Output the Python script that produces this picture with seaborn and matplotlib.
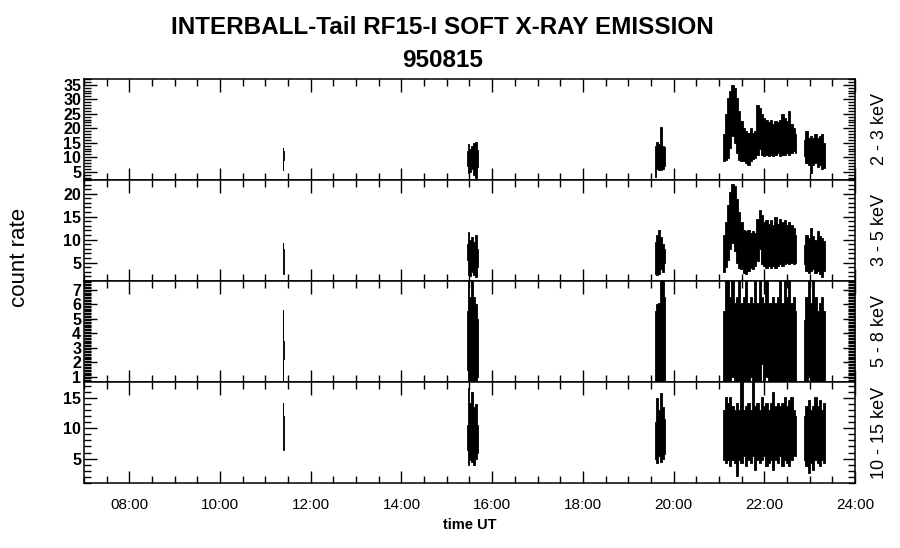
import numpy as np
import pandas as pd
import matplotlib
matplotlib.use("Agg")
import matplotlib.pyplot as plt
import seaborn as sns
from matplotlib.ticker import MultipleLocator, FuncFormatter

nan = np.nan

# Время UT (часы); NaN разделяет отдельные сеансы измерений
t_ut = [11.385, 11.40, 11.415, nan,
        15.44, 15.48, 15.52, 15.56, 15.60, 15.64, 15.68, nan,
        19.60, 19.64, 19.68, 19.72, 19.76, 19.80, 19.82, nan,
        21.10, 21.15, 21.20, 21.25, 21.30, 21.35, 21.40, 21.45, 21.50, 21.55, 21.60,
        21.65, 21.70, 21.75, 21.80, 21.85, 21.90, 21.95, 22.00, 22.05, 22.10, 22.15,
        22.20, 22.25, 22.30, 22.35, 22.40, 22.45, 22.50, 22.55, 22.60, 22.65, 22.70, nan,
        22.88, 22.93, 22.98, 23.03, 23.08, 23.13, 23.18, 23.23, 23.28, 23.33]

# Огибающие скорости счёта (верх / низ) по каналам
hi_2_3 = [13.3, 12.0, 11.5, nan,
          12.0, 14.5, 13.0, 14.0, 14.8, 15.3, 12.5, nan,
          14.0, 15.3, 14.5, 20.5, 14.0, 13.5, 9.0, nan,
          18.0, 25.0, 30.5, 33.0, 35.0, 34.0, 30.5, 26.0, 22.5, 20.0, 19.0,
          18.5, 20.0, 18.5, 19.0, 28.0, 27.0, 25.0, 23.6, 23.0, 22.0, 23.0,
          21.3, 22.5, 22.0, 23.0, 25.0, 23.6, 22.5, 26.0, 21.3, 20.0, 18.0, nan,
          16.0, 19.0, 16.7, 17.3, 16.5, 18.0, 16.7, 17.3, 18.0, 15.0]
lo_2_3 = [5.5, 9.0, 9.2, nan,
          7.0, 4.5, 5.0, 6.0, 4.0, 3.0, 6.5, nan,
          3.3, 6.0, 5.7, 5.5, 6.0, 7.0, 8.0, nan,
          8.7, 9.0, 9.8, 13.3, 17.3, 15.0, 11.5, 9.0, 8.7, 8.7, 8.1,
          7.5, 8.7, 9.3, 9.8, 10.9, 12.7, 10.9, 10.4, 10.9, 10.4, 10.9,
          10.4, 10.9, 11.5, 10.4, 10.9, 10.9, 11.5, 10.9, 11.5, 12.1, 11.5, nan,
          10.5, 8.0, 7.5, 4.6, 7.5, 8.0, 6.5, 7.5, 5.8, 6.4]

hi_3_5 = [9.3, 8.0, 7.5, nan,
          9.0, 11.6, 10.0, 10.5, 9.5, 11.0, 8.0, nan,
          9.5, 11.0, 12.0, 10.5, 9.0, 8.0, 6.5, nan,
          11.1, 13.9, 17.5, 20.3, 22.1, 21.7, 18.9, 16.0, 13.9, 12.2, 11.8,
          12.2, 11.5, 11.8, 11.5, 14.6, 16.4, 15.3, 13.9, 14.2, 13.5, 14.2,
          13.2, 15.0, 13.5, 14.6, 13.9, 14.2, 13.2, 13.9, 13.2, 12.5, 11.1, nan,
          8.9, 11.1, 10.4, 12.5, 10.7, 10.0, 11.8, 10.7, 10.4, 9.6]
lo_3_5 = [2.6, 2.6, 3.0, nan,
          5.5, 2.4, 2.0, 3.0, 2.2, 1.8, 4.0, nan,
          2.6, 2.4, 2.5, 3.5, 3.0, 5.0, 5.5, nan,
          3.0, 4.0, 5.5, 8.0, 9.3, 7.5, 5.0, 3.9, 3.5, 2.8, 2.5,
          3.2, 3.9, 3.5, 4.2, 5.4, 7.9, 4.6, 4.2, 3.9, 4.2, 3.9,
          4.2, 3.9, 4.2, 4.6, 4.2, 4.6, 5.0, 4.6, 5.0, 4.6, 5.0, nan,
          4.6, 3.2, 2.8, 3.2, 3.5, 2.8, 3.2, 2.5, 1.8, 3.2]

hi_5_8 = [5.6, 3.5, 3.3, nan,
          5.5, 7.7, 6.5, 7.7, 6.5, 6.0, 5.0, nan,
          5.5, 6.0, 6.1, 7.7, 7.7, 6.5, 5.0, nan,
          5.5, 7.7, 7.7, 6.5, 7.7, 6.1, 6.5, 7.7, 6.1, 6.5, 7.7,
          6.1, 6.5, 6.1, 7.7, 6.1, 7.7, 6.5, 6.1, 7.7, 6.1, 6.1,
          6.5, 6.1, 6.5, 7.7, 6.1, 7.7, 6.5, 7.7, 6.1, 6.5, 5.5, nan,
          4.9, 6.5, 7.7, 6.1, 7.7, 6.5, 5.5, 6.1, 6.5, 5.5]
lo_5_8 = [0.0, 2.2, 2.3, nan,
          1.5, 0.0, 0.0, 0.0, 0.0, 0.0, 1.0, nan,
          0.0, 0.0, 0.0, 0.0, 0.0, 0.0, 0.0, nan,
          0.0, 0.0, 0.0, 0.0, 1.0, 0.0, 0.0, 0.0, 0.0, 0.0, 0.0,
          0.0, 1.0, 0.0, 0.0, 0.0, 0.0, 1.9, 0.0, 1.0, 0.0, 0.0,
          0.0, 0.0, 0.0, 0.0, 0.0, 0.0, 1.0, 0.0, 0.0, 0.0, 0.0, nan,
          0.0, 0.0, 1.0, 0.0, 0.0, 0.0, 0.0, 0.0, 0.0, 0.0]

hi_10_15 = [14.2, 12.0, 11.5, nan,
            10.5, 16.6, 14.2, 16.0, 13.5, 14.0, 10.5, nan,
            11.0, 15.0, 13.0, 15.8, 13.5, 11.5, 9.0, nan,
            13.0, 15.2, 14.1, 15.2, 13.6, 13.0, 14.1, 13.0, 18.5, 13.0, 13.6,
            14.1, 13.0, 18.5, 13.6, 14.1, 13.0, 15.2, 13.6, 14.1, 13.0, 14.1,
            16.0, 13.6, 14.1, 13.6, 14.1, 15.2, 13.6, 14.7, 15.2, 13.0, 12.0, nan,
            12.0, 13.7, 14.7, 13.0, 13.7, 15.2, 13.7, 14.7, 13.0, 14.2]
lo_10_15 = [7.5, 6.5, 7.0, nan,
            6.5, 4.0, 4.8, 4.5, 4.0, 5.0, 6.0, nan,
            5.0, 4.3, 5.5, 4.5, 5.0, 5.8, 7.5, nan,
            4.8, 4.3, 4.8, 3.8, 4.8, 4.3, 2.1, 4.8, 4.3, 5.4, 3.8,
            4.8, 4.3, 5.4, 3.2, 4.8, 4.3, 4.8, 5.4, 3.8, 4.3, 4.8,
            3.2, 4.8, 4.3, 5.4, 3.8, 4.8, 4.3, 3.8, 4.8, 5.4, 5.4, nan,
            4.8, 3.8, 2.7, 4.3, 3.2, 4.8, 4.3, 3.8, 4.8, 4.3]

channels = ["2 - 3 keV", "3 - 5 keV", "5 - 8 keV", "10 - 15 keV"]
y_limits = [(2.2, 37.0), (1.0, 23.0), (0.65, 7.6), (1.0, 17.6)]
y_major = [5, 5, 1, 5]
y_minor = [1, 1, 0.1, 1]


def hhmm(h, _pos):
    return f"{int(round(h)):02d}:00"


def main():
    sns.set_theme(style="ticks")
    plt.rcParams["font.family"] = ["Liberation Sans", "DejaVu Sans"]
    # Чистый чёрный цвет для текста и осей, как в оригинале
    for key in ["text.color", "axes.labelcolor", "xtick.color", "ytick.color",
                "axes.edgecolor"]:
        plt.rcParams[key] = "black"

    df = pd.DataFrame({"t": t_ut,
                       "hi_0": hi_2_3, "lo_0": lo_2_3,
                       "hi_1": hi_3_5, "lo_1": lo_3_5,
                       "hi_2": hi_5_8, "lo_2": lo_5_8,
                       "hi_3": hi_10_15, "lo_3": lo_10_15})

    fig, axes = plt.subplots(4, 1, figsize=(9.0, 5.48), dpi=100, sharex=True)
    fig.subplots_adjust(left=0.0933, right=0.95, top=0.856, bottom=0.1186, hspace=0)

    for i, ax in enumerate(axes):
        ax.fill_between(df["t"], df[f"lo_{i}"], df[f"hi_{i}"], step="mid",
                        color="black", linewidth=0.6, edgecolor="black")
        ax.set_xlim(7, 24)
        ax.set_ylim(*y_limits[i])
        ax.yaxis.set_major_locator(MultipleLocator(y_major[i]))
        ax.yaxis.set_minor_locator(MultipleLocator(y_minor[i]))
        ax.xaxis.set_major_locator(MultipleLocator(2))
        ax.xaxis.set_minor_locator(MultipleLocator(0.5))
        ax.xaxis.set_major_formatter(FuncFormatter(hhmm))
        ax.tick_params(which="both", direction="in", top=True, right=True,
                       color="black", labelcolor="black", width=1.0)
        ax.tick_params(which="major", length=9)
        ax.tick_params(which="minor", length=5)
        ax.tick_params(axis="y", which="major", length=9, labelsize=11.5, pad=2)
        for lab in ax.get_yticklabels():
            lab.set_fontweight("bold")
        for sp in ax.spines.values():
            sp.set_linewidth(1.1)
            sp.set_color("black")
        ax.text(1.032, 0.5, channels[i], transform=ax.transAxes, rotation=90,
                ha="center", va="center", fontsize=13, color="black")
        ax.set_ylabel("")

    axes[-1].tick_params(axis="x", labelsize=11, pad=11)
    axes[-1].set_xlabel("time UT", fontsize=10.5, fontweight="bold", labelpad=4)

    fig.text(0.492, 0.950, "INTERBALL-Tail RF15-I SOFT X-RAY EMISSION",
             ha="center", va="center", fontsize=17.5, fontweight="bold", color="black")
    fig.text(0.492, 0.889, "950815", ha="center", va="center",
             fontsize=17.5, fontweight="bold", color="black")
    fig.text(0.022, 0.530, "count rate", rotation=90, ha="center", va="center",
             fontsize=16, color="black")

    fig.savefig("out.png", dpi=100, facecolor="white")


if __name__ == "__main__":
    main()
